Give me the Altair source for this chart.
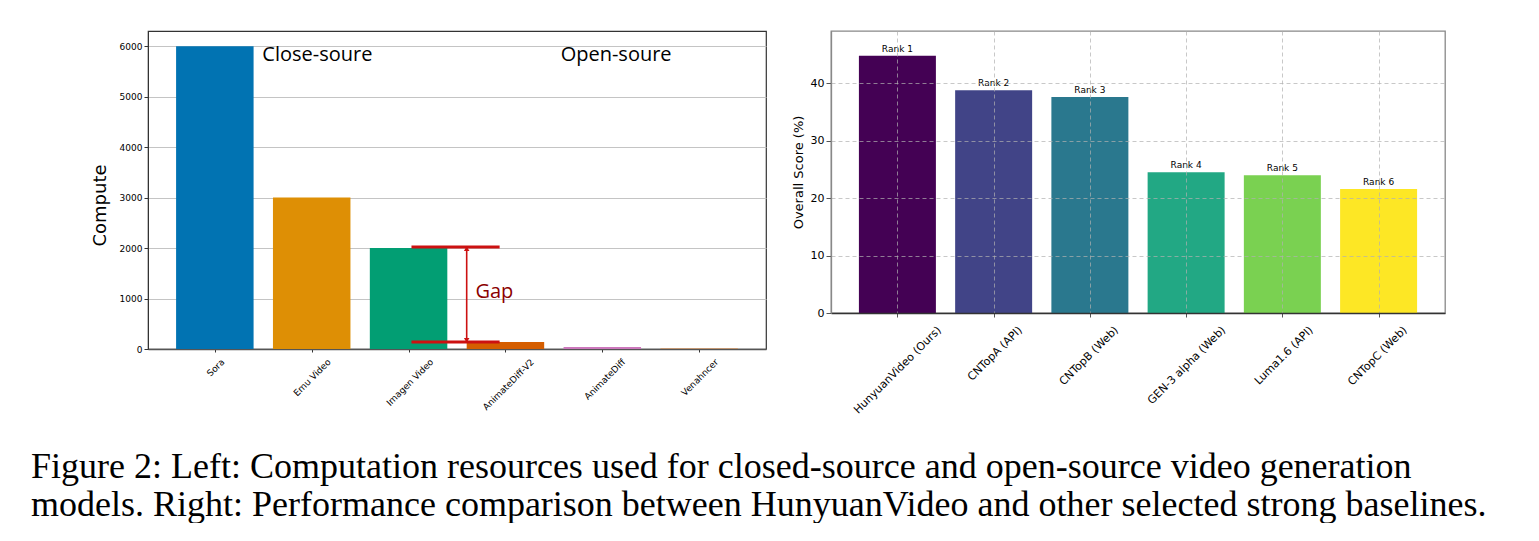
import json
import altair as alt
import pandas as pd

# ---------------- data ----------------
left_models = ["Sora", "Emu Video", "Imagen Video", "AnimateDiff-V2", "AnimateDiff", "Venahncer"]
left_compute = [6000, 3000, 2000, 140, 40, 15]
left_colors = ["#0173b2", "#de8f05", "#029e73", "#d55e00", "#cc78bc", "#ca9161"]
left_ticks = [0, 1000, 2000, 3000, 4000, 5000, 6000]

region_labels = ["Close-soure", "Open-soure"]
region_x = [0.49, 3.57]
region_y = [5710, 5710]

gap_line_y = [2020, 140]
gap_line_x = [2.03, 2.94]
gap_arrow_x = 2.6
gap_arrow_y = [1990, 170]
gap_text = "Gap"
gap_text_x = 2.69
gap_text_y = 1130

right_models = ["HunyuanVideo (Ours)", "CNTopA (API)", "CNTopB (Web)",
                "GEN-3 alpha (Web)", "Luma1.6 (API)", "CNTopC (Web)"]
right_scores = [44.8, 38.8, 37.6, 24.5, 24.0, 21.6]
right_ranks = ["Rank 1", "Rank 2", "Rank 3", "Rank 4", "Rank 5", "Rank 6"]
right_colors = ["#440154", "#414487", "#2a788e", "#22a884", "#7ad151", "#fde725"]
right_ticks = [0, 10, 20, 30, 40]

caption_lines = [
    "Figure 2: Left: Computation resources used for closed-source and open-source video generation",
    "models. Right: Performance comparison between HunyuanVideo and other selected strong baselines.",
]

SANS = "DejaVu Sans"


def name_expr(names):
    return f"{json.dumps(names)}[datum.value]"


def rot_offset(names, k):
    return {"condition": {"test": "false", "value": 0},
            "expr": f"{k}*length({json.dumps(names)}[datum.value])"}


# ---------------- left panel ----------------
ldf = pd.DataFrame({"lmodel": left_models, "compute": left_compute,
                    "idx": list(range(len(left_models)))})
lx = alt.Scale(domain=[-0.69, 5.69], nice=False, zero=False)
ly = alt.Scale(domain=[0, 6300], nice=False)

lxaxis = alt.Axis(values=list(range(len(left_models))), labelExpr=name_expr(left_models),
                  labelAngle=-45, labelAlign="right", labelBaseline="middle",
                  labelFont=SANS, labelFontSize=9, labelColor="black",
                  labelPadding=8, labelOffset=rot_offset(left_models, 1.9),
                  tickSize=3, tickColor="#333", domainColor="#555", domainWidth=1.6,
                  grid=False, title=None, labelOverlap=False)
lyaxis = alt.Axis(values=left_ticks, format="d", labelFont=SANS, labelFontSize=9,
                  labelColor="black", tickSize=4, labelPadding=2, tickColor="#333",
                  domainColor="#333", gridColor="#c4c4c4", gridWidth=1,
                  title="Compute", titleFont=SANS, titleFontSize=18, titleFontWeight="normal",
                  titleColor="black", titlePadding=10, titleY=174)

lbars = alt.Chart(ldf).transform_calculate(
    x0="datum.idx - 0.4", x1="datum.idx + 0.4"
).mark_bar().encode(
    x=alt.X("x0:Q", scale=lx, axis=lxaxis),
    x2="x1:Q",
    y=alt.Y("compute:Q", scale=ly, axis=lyaxis),
    y2=alt.datum(0),
    color=alt.Color("lmodel:N", scale=alt.Scale(domain=left_models, range=left_colors), legend=None),
)

rdf_regions = pd.DataFrame({"label": region_labels, "x": region_x, "y": region_y})
lregions = alt.Chart(rdf_regions).mark_text(
    font="Open Sans", fontSize=20, align="left", baseline="alphabetic", color="black"
).encode(x=alt.X("x:Q", scale=lx), y=alt.Y("y:Q", scale=ly), text="label:N")

gdf = pd.DataFrame({"y": gap_line_y, "x": [gap_line_x[0]] * 2, "x2": [gap_line_x[1]] * 2})
glines = alt.Chart(gdf).mark_rule(color="#cc1111", strokeWidth=3).encode(
    x=alt.X("x:Q", scale=lx), x2="x2:Q", y=alt.Y("y:Q", scale=ly))

adf = pd.DataFrame({"x": [gap_arrow_x], "y": [gap_arrow_y[0]], "y2": [gap_arrow_y[1]]})
garrow = alt.Chart(adf).mark_rule(color="#cc1111", strokeWidth=1.6).encode(
    x=alt.X("x:Q", scale=lx), y=alt.Y("y:Q", scale=ly), y2="y2:Q")

hdf = pd.DataFrame({"x": [gap_arrow_x, gap_arrow_x], "y": gap_arrow_y,
                    "shape": ["triangle-up", "triangle-down"]})
gheads = alt.Chart(hdf).mark_point(filled=True, color="#cc1111", size=30, opacity=1).encode(
    x=alt.X("x:Q", scale=lx), y=alt.Y("y:Q", scale=ly),
    shape=alt.Shape("shape:N", scale=None))

tdf = pd.DataFrame({"x": [gap_text_x], "y": [gap_text_y], "t": [gap_text]})
gtext = alt.Chart(tdf).mark_text(font="Open Sans", fontSize=20, color="#8b0000",
                                 align="left", baseline="middle").encode(
    x=alt.X("x:Q", scale=lx), y=alt.Y("y:Q", scale=ly), text="t:N")

left = alt.layer(lbars, lregions, glines, garrow, gheads, gtext).properties(
    width=618, height=318, view=alt.ViewBackground(stroke="#333", strokeWidth=1.2))

# ---------------- right panel ----------------
rdf = pd.DataFrame({"rmodel": right_models, "score": right_scores, "rank": right_ranks,
                    "idx": list(range(len(right_models)))})
rx = alt.Scale(domain=[-0.69, 5.69], nice=False, zero=False)
ry = alt.Scale(domain=[0, 49.1], nice=False)

rxaxis = alt.Axis(values=list(range(len(right_models))), labelExpr=name_expr(right_models),
                  labelAngle=-45, labelAlign="right", labelBaseline="middle",
                  labelFont=SANS, labelFontSize=11, labelColor="black",
                  labelPadding=11, labelOffset=rot_offset(right_models, 2.2),
                  tickSize=4, tickColor="#555", domainColor="#333", domainWidth=1.5,
                  grid=True, gridColor="#b0b0b0", gridOpacity=0.7, gridDash=[4, 3],
                  title=None, labelOverlap=False, zindex=1)
ryaxis = alt.Axis(values=right_ticks, labelFont=SANS, labelFontSize=11, labelColor="black",
                  tickSize=5, labelPadding=2, tickColor="#555",
                  domainColor="#888", domainWidth=1.3,
                  grid=True, gridColor="#b0b0b0", gridOpacity=0.7, gridDash=[4, 3],
                  title="Overall Score (%)", titleFont=SANS, titleFontSize=13,
                  titleFontWeight="normal", titleColor="black", titlePadding=5, zindex=1)

rbars = alt.Chart(rdf).transform_calculate(
    x0="datum.idx - 0.4", x1="datum.idx + 0.4"
).mark_bar().encode(
    x=alt.X("x0:Q", scale=rx, axis=rxaxis),
    x2="x1:Q",
    y=alt.Y("score:Q", scale=ry, axis=ryaxis),
    y2=alt.datum(0),
    color=alt.Color("rmodel:N", scale=alt.Scale(domain=right_models, range=right_colors), legend=None),
)
rlabels = alt.Chart(rdf).mark_text(font=SANS, fontSize=9, color="black",
                                   baseline="bottom", dy=-2).encode(
    x=alt.X("idx:Q", scale=rx), y=alt.Y("score:Q", scale=ry), text="rank:N")

right = alt.layer(rbars, rlabels).properties(
    width=614, height=282, view=alt.ViewBackground(stroke="#888", strokeWidth=1.3))

chart = alt.hconcat(left, right, spacing=65, bounds="flush").resolve_scale(
    color="independent", x="independent", y="independent"
).properties(
    padding={"left": 22, "top": 22, "right": 0, "bottom": 0},
    title=alt.TitleParams(text=caption_lines, orient="bottom", anchor="start",
                          font="Liberation Serif", fontSize=36, fontWeight="normal",
                          color="black", lineHeight=38, baseline="top", offset=34, dx=-59.5),
).configure(background="white").configure_view(stroke="#333")

chart.save("out.html", embed_options={"renderer": "svg", "actions": False})
